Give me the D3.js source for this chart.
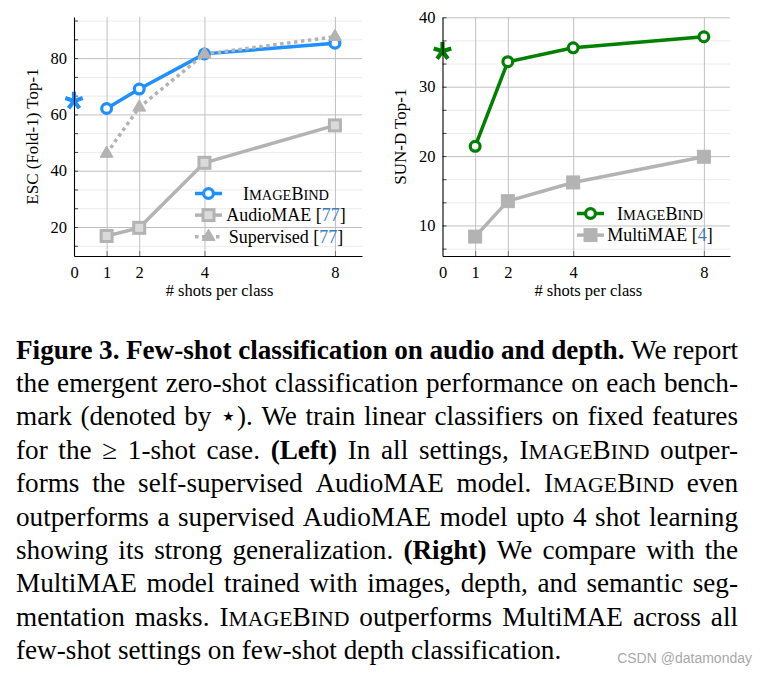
<!DOCTYPE html>
<html>
<head>
<meta charset="utf-8">
<script src="https://cdn.jsdelivr.net/npm/d3@7"></script>
<style>
  body { margin: 0; background: #fff; }
  svg { display: block; }
</style>
</head>
<body>
<div id="fig"></div>
<script>
// few-shot results
const shots = [1, 2, 4, 8];
const xTickValues = [0, 1, 2, 4, 8];

const escImageBind = [62.1, 69.0, 81.5, 85.3];
const escAudioMAE = [16.8, 19.7, 42.8, 56.1];
const escSupervised = [46.1, 62.5, 81.4, 87.6];
const escZeroShot = 64.8;
const escYTicks = [20, 40, 60, 80];

const sunImageBind = [21.4, 33.6, 35.6, 37.2];
const sunMultiMAE = [8.4, 13.5, 16.2, 19.9];
const sunZeroShot = 35.1;
const sunYTicks = [10, 20, 30, 40];

const captionLines = [
  [["Figure 3. Few-shot classification on audio and depth.", "b"], [" We report", ""]],
  [["the emergent zero-shot classification performance on each bench-", ""]],
  [["mark (denoted by \u22C6). We train linear classifiers on fixed features", ""]],
  [["for the \u2265 1-shot case. ", ""], ["(Left)", "b"], [" In all settings, ", ""], ["ImageBind", "sc"], [" outper-", ""]],
  [["forms the self-supervised AudioMAE model. ", ""], ["ImageBind", "sc"], [" even", ""]],
  [["outperforms a supervised AudioMAE model upto 4 shot learning", ""]],
  [["showing its strong generalization. ", ""], ["(Right)", "b"], [" We compare with the", ""]],
  [["MultiMAE model trained with images, depth, and semantic seg-", ""]],
  [["mentation masks. ", ""], ["ImageBind", "sc"], [" outperforms MultiMAE across all", ""]],
  [["few-shot settings on few-shot depth classification.", ""]]
];

const serif = "'Liberation Serif', 'Times New Roman', serif";
const blue = "#1e90ff", green = "#008000", gray = "#b3b3b3", cite = "#3a7cc0";

const svg = d3.select("#fig").append("svg")
    .attr("width", 767)
    .attr("height", 675);

svg.append("rect").attr("width", 767).attr("height", 675).attr("fill", "#fff");

// write text with small caps / bold / coloured pieces into a <text>
function rich(text, pieces, size) {
  pieces.forEach(function(p) {
    if (p.s === "sc") {
      p.t.split("").forEach(function(ch) {
        const up = ch === ch.toUpperCase();
        text.append("tspan")
            .attr("font-size", up ? size : size * 0.8)
            .text(ch.toUpperCase());
      });
    } else {
      const ts = text.append("tspan").text(p.t);
      if (p.s === "b") ts.attr("font-weight", "bold");
      if (p.s === "cite") ts.attr("fill", cite);
    }
  });
}

function star(r) {
  let d = "";
  for (let i = 0; i < 5; i++) {
    const a = (90 + i * 72) * Math.PI / 180;
    d += "M0,0L" + (r * Math.cos(a)).toFixed(2) + "," + (-r * Math.sin(a)).toFixed(2);
  }
  return d;
}

function triangle(r) {
  const pts = [90, 210, 330].map(function(a) {
    const t = a * Math.PI / 180;
    return [r * Math.cos(t), -r * Math.sin(t)];
  });
  return "M" + pts.map(function(p) { return p[0].toFixed(2) + "," + p[1].toFixed(2); }).join("L") + "Z";
}

function drawMarker(g, type, color, cx, cy) {
  if (type === "circle") {
    g.append("circle").attr("cx", cx).attr("cy", cy).attr("r", 4.9)
        .attr("fill", "#fff").attr("stroke", color).attr("stroke-width", 3.2);
  } else if (type === "square") {
    g.append("rect").attr("x", cx - 5.5).attr("y", cy - 5.5).attr("width", 11).attr("height", 11)
        .attr("fill", "#dadada").attr("stroke", color).attr("stroke-width", 3);
  } else if (type === "fsquare") {
    g.append("rect").attr("x", cx - 6.5).attr("y", cy - 6.5).attr("width", 13).attr("height", 13)
        .attr("fill", color).attr("stroke", color).attr("stroke-width", 1);
  } else if (type === "triangle") {
    g.append("path").attr("d", triangle(7.5)).attr("transform", "translate(" + cx + "," + cy + ")")
        .attr("fill", color).attr("stroke", color).attr("stroke-width", 1);
  }
}

function drawPanel(opt) {
  const x = d3.scaleLinear().domain(opt.xDomain).range([opt.left, opt.right]);
  const y = d3.scaleLinear().domain(opt.yDomain).range([opt.bottom, opt.top]);
  const g = svg.append("g");
  const w = opt.right - opt.left, h = opt.bottom - opt.top;

  // minor grid, every third of a major step
  const step = opt.yTicks[1] - opt.yTicks[0];
  const minor = d3.range(Math.ceil(opt.yDomain[0] / (step / 3)), Math.floor(opt.yDomain[1] / (step / 3)) + 1)
      .map(function(k) { return k * step / 3; })
      .filter(function(v) { return Math.abs(v / step - Math.round(v / step)) > 1e-6; });

  g.append("g")
      .attr("transform", "translate(" + opt.left + ",0)")
      .call(d3.axisLeft(y).tickValues(minor).tickSize(-w).tickFormat(""))
      .call(function(a) { a.select(".domain").remove(); })
      .selectAll("line").attr("stroke", "#ebebeb");

  g.append("g")
      .attr("transform", "translate(" + opt.left + ",0)")
      .call(d3.axisLeft(y).tickValues(opt.yTicks).tickSize(-w).tickFormat(""))
      .call(function(a) { a.select(".domain").remove(); })
      .selectAll("line").attr("stroke", "#c0c0c0");

  g.append("g")
      .attr("transform", "translate(0," + opt.bottom + ")")
      .call(d3.axisBottom(x).tickValues(shots).tickSize(-h).tickFormat(""))
      .call(function(a) { a.select(".domain").remove(); })
      .selectAll("line").attr("stroke", "#c0c0c0");

  // little inward ticks
  g.append("g")
      .attr("transform", "translate(" + opt.left + ",0)")
      .call(d3.axisLeft(y).tickValues(minor.concat(opt.yTicks)).tickSize(-4).tickFormat(""))
      .call(function(a) { a.select(".domain").remove(); })
      .selectAll("line").attr("stroke", "#444");
  g.append("g")
      .attr("transform", "translate(0," + opt.bottom + ")")
      .call(d3.axisBottom(x).tickValues(shots).tickSize(-5).tickFormat(""))
      .call(function(a) { a.select(".domain").remove(); })
      .selectAll("line").attr("stroke", "#777");

  // series
  opt.series.forEach(function(s) {
    const pts = shots.map(function(k, i) { return [k, s.values[i]]; });
    g.append("path")
        .datum(pts)
        .attr("fill", "none")
        .attr("stroke", s.color)
        .attr("stroke-width", 3.5)
        .attr("stroke-dasharray", s.dash || null)
        .attr("stroke-linejoin", "round")
        .attr("d", d3.line().x(function(d) { return x(d[0]); }).y(function(d) { return y(d[1]); }));
    pts.forEach(function(d) { drawMarker(g, s.marker, s.color, x(d[0]), y(d[1])); });
  });

  // zero-shot star
  g.append("path")
      .attr("d", star(9.2))
      .attr("transform", "translate(" + x(0) + "," + y(opt.zeroShot) + ")")
      .attr("fill", "none")
      .attr("stroke", opt.series[0].color)
      .attr("stroke-width", 4.2);

  // axes
  const yAxis = g.append("g")
      .attr("transform", "translate(" + opt.left + ",0)")
      .call(d3.axisLeft(y).tickValues(opt.yTicks).tickSize(0).tickSizeOuter(0).tickPadding(7));
  const xAxis = g.append("g")
      .attr("transform", "translate(0," + opt.bottom + ")")
      .call(d3.axisBottom(x).tickValues(xTickValues).tickSize(0).tickSizeOuter(0).tickPadding(10));
  [yAxis, xAxis].forEach(function(a) {
    a.select(".domain").attr("stroke", "#000").attr("stroke-width", 1.1);
    a.selectAll("text").attr("font-family", serif).attr("font-size", 16.5).attr("fill", "#000");
  });

  g.append("text")
      .attr("transform", "translate(" + opt.yLabelX + "," + (opt.top + h / 2) + ") rotate(-90)")
      .attr("text-anchor", "middle")
      .attr("font-family", serif)
      .attr("font-size", 17)
      .text(opt.yLabel);

  g.append("text")
      .attr("x", opt.left + (x(8.8) - opt.left) / 2 + 2)
      .attr("y", 296)
      .attr("text-anchor", "middle")
      .attr("font-family", serif)
      .attr("font-size", 16.5)
      .text("# shots per class");

  // legend
  opt.series.forEach(function(s, i) {
    const ly = opt.legendY + i * 21.6;
    g.append("line")
        .attr("x1", opt.legendX).attr("x2", opt.legendX + 27)
        .attr("y1", ly).attr("y2", ly)
        .attr("stroke", s.color).attr("stroke-width", 3.5)
        .attr("stroke-dasharray", s.dash || null);
    drawMarker(g, s.marker, s.color, opt.legendX + 13.5, ly);
    const t = g.append("text")
        .attr("x", opt.legendTextX)
        .attr("y", ly + 6)
        .attr("text-anchor", "middle")
        .attr("font-family", serif)
        .attr("font-size", 18);
    rich(t, s.label, 18);
  });
}

drawPanel({
  left: 74, right: 362, top: 17, bottom: 256,
  xDomain: [0, 8.83], yDomain: [9.7, 94.6],
  yTicks: escYTicks, zeroShot: escZeroShot,
  yLabel: "ESC (Fold-1) Top-1", yLabelX: 37.5,
  legendX: 195, legendY: 193.5, legendTextX: 286,
  series: [
    { values: escImageBind, color: blue, marker: "circle",
      label: [{ t: "ImageBind", s: "sc" }] },
    { values: escAudioMAE, color: gray, marker: "square",
      label: [{ t: "AudioMAE ", s: "" }, { t: "[", s: "" }, { t: "77", s: "cite" }, { t: "]", s: "" }] },
    { values: escSupervised, color: gray, marker: "triangle", dash: "3.5,3.5",
      label: [{ t: "Supervised ", s: "" }, { t: "[", s: "" }, { t: "77", s: "cite" }, { t: "]", s: "" }] }
  ]
});

drawPanel({
  left: 442.5, right: 730, top: 17.3, bottom: 256,
  xDomain: [0, 8.8], yDomain: [5.6, 40],
  yTicks: sunYTicks, zeroShot: sunZeroShot,
  yLabel: "SUN-D Top-1", yLabelX: 406,
  legendX: 577, legendY: 213.5, legendTextX: 660,
  series: [
    { values: sunImageBind, color: green, marker: "circle",
      label: [{ t: "ImageBind", s: "sc" }] },
    { values: sunMultiMAE, color: gray, marker: "fsquare",
      label: [{ t: "MultiMAE ", s: "" }, { t: "[", s: "" }, { t: "4", s: "cite" }, { t: "]", s: "" }] }
  ]
});

// caption, justified word by word
const capSize = 27.2, capLeft = 16, capRight = 738, capTop = 358.5, capLead = 33.4;
captionLines.forEach(function(line, li) {
  const words = [];
  let cur = [];
  line.forEach(function(seg) {
    seg[0].split(" ").forEach(function(part, i) {
      if (i > 0 && cur.length) { words.push(cur); cur = []; }
      if (part !== "") cur.push({ t: part, s: seg[1] });
    });
  });
  if (cur.length) words.push(cur);

  const by = capTop + li * capLead;
  const nodes = words.map(function(wd) {
    const t = svg.append("text")
        .attr("y", by)
        .attr("font-family", serif)
        .attr("font-size", capSize)
        .attr("fill", "#000");
    rich(t, wd, capSize);
    return t;
  });
  const widths = nodes.map(function(n) { return n.node().getComputedTextLength(); });
  const total = d3.sum(widths);
  const last = li === captionLines.length - 1;
  const gap = last ? capSize * 0.25 : (capRight - capLeft - total) / (nodes.length - 1);
  let cx = capLeft;
  nodes.forEach(function(n, i) {
    n.attr("x", cx);
    cx += widths[i] + gap;
  });
});

svg.append("text")
    .attr("x", 752)
    .attr("y", 663)
    .attr("text-anchor", "end")
    .attr("font-family", "'Liberation Sans', Arial, sans-serif")
    .attr("font-size", 14)
    .attr("fill", "#a8a8a8")
    .text("CSDN @datamonday");
</script>
</body>
</html>
